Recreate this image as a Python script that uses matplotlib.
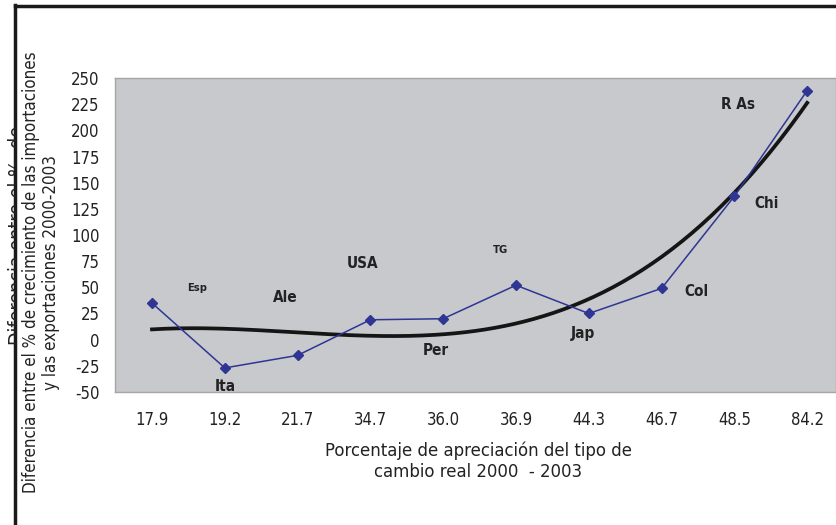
import numpy as np
import matplotlib
matplotlib.use("Agg")
import matplotlib.pyplot as plt
from matplotlib.transforms import Bbox

plt.rcParams['font.family'] = ['DejaVu Sans']
plt.rcParams['font.stretch'] = 'condensed'
plt.rcParams['axes.unicode_minus'] = False

# datos
categorias = ["17.9", "19.2", "21.7", "34.7", "36.0", "36.9", "44.3", "46.7", "48.5", "84.2"]
paises = ["Esp", "Ita", "Ale", "USA", "Per", "TG", "Jap", "Col", "Chi", "R As"]
diferencia = [35, -27, -15, 19, 20, 52, 25, 49, 137, 238]
tendencia = [10, 10, 7, 4, 5, 16, 38, 79, 141, 226]

# desplazamiento de cada etiqueta respecto a su punto (pixeles)
offsets = [(45, 15), (1, -19), (-12, 58), (-8, 56), (-7, -32),
           (-15, 35), (-6, -20), (35, -3), (32, -7), (-69, -14)]
tam_etiqueta = [8, 11, 11, 11, 11, 8, 11, 11, 11, 11]

fig = plt.figure(figsize=(8.36, 5.25), dpi=100)
ax = fig.add_axes([115/836, (525-392)/525, 721/836, (392-78)/525])
ax.set_facecolor("#c8c9cd")

x = np.arange(len(categorias))

# linea de tendencia polinomica
coef = np.polyfit(x, tendencia, 4)
xs = np.linspace(0, len(categorias) - 1, 200)
ax.plot(xs, np.polyval(coef, xs), color="#151515", lw=2.7, zorder=2)

ax.plot(x, diferencia, color="#2e3592", lw=1.1, marker="D", markersize=5,
        markerfacecolor="#2e3592", markeredgecolor="#2e3592", zorder=3)

for i, p in enumerate(paises):
    ax.annotate(p, (x[i], diferencia[i]), xytext=offsets[i], textcoords="offset pixels",
                ha="center", va="center", fontsize=tam_etiqueta[i], fontweight="bold",
                color="#222222")

ax.set_xlim(-0.508, 9.396)
ax.set_ylim(-50, 250)
ax.set_yticks(np.arange(-50, 251, 25))
ax.set_xticks(x)
ax.set_xticklabels(categorias)
ax.tick_params(axis="both", length=0, labelsize=12, colors="#222222")
ax.tick_params(axis="x", pad=14)
ax.tick_params(axis="y", pad=11)
for s in ax.spines.values():
    s.set_color("#a5a5a5")
    s.set_linewidth(1)

fig.text(478/836, 1 - 461/525, "Porcentaje de apreciación del tipo de\ncambio real 2000  - 2003",
         ha="center", va="center", fontsize=13.2, color="#222222", linespacing=1.2)

# etiqueta recortada detras
t = fig.text(18/836, 1 - 235/525, "Diferencia entre el %  de", rotation=90,
             ha="center", va="center", fontsize=14, color="#222222")
t.set_clip_on(True)
t.set_clip_box(Bbox.from_extents(0, 0, 16, 525))

fig.text(41/836, 1 - 272/525,
         "Diferencia entre el % de crecimiento de las importaciones\ny las exportaciones 2000-2003",
         rotation=90, ha="center", va="center", fontsize=12.2, color="#222222",
         linespacing=1.15, multialignment="center")

# marco
fig.add_artist(plt.Line2D([15/836, 15/836], [0, 1 - 5/525], color="#1a1a1a", lw=2.5))
fig.add_artist(plt.Line2D([15/836, 1], [1 - 6/525, 1 - 6/525], color="#1a1a1a", lw=2.5))

fig.savefig("out.png", dpi=100)
